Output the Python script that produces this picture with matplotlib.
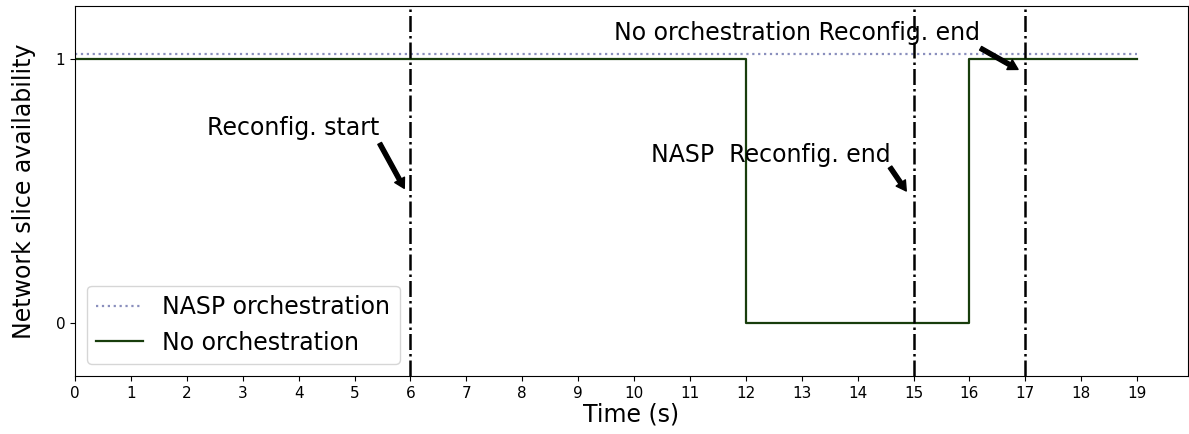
import matplotlib
matplotlib.use("Agg")
from matplotlib import pyplot as plt

# availability over time (s)
time_nasp = [0, 19]
avail_nasp = [1.02, 1.02]
time_noorch = [0, 12, 16, 19]
avail_noorch = [1, 0, 1, 1]
events = [6, 15, 17]
xticks = list(range(0, 20))

fig = plt.figure(figsize=(11.89, 4.34), dpi=100)
ax = fig.add_axes([75/1189, 58/434, 1113/1189, 370/434])

ax.plot(time_nasp, avail_nasp, ':', color='#8a8fbd', lw=1.6, label='NASP orchestration')
ax.step(time_noorch, avail_noorch, where='post', color='#183d0c', lw=1.6, label='No orchestration')

for t in events:
    ax.axvline(t, color='black', ls='-.', lw=1.8)

# arrows pointing at the event lines
arrow = dict(facecolor='black', edgecolor='black', width=3, headwidth=8, headlength=7, shrink=0)
ax.annotate('', xy=(5.89, 0.51), xytext=(5.45, 0.68), arrowprops=arrow)
ax.annotate('', xy=(14.87, 0.5), xytext=(14.58, 0.59), arrowprops=arrow)
ax.annotate('', xy=(16.87, 0.96), xytext=(16.2, 1.04), arrowprops=arrow)
ax.text(2.37, 0.71, 'Reconfig. start', fontsize=17)
ax.text(10.3, 0.61, 'NASP  Reconfig. end', fontsize=17)
ax.text(9.65, 1.07, 'No orchestration Reconfig. end', fontsize=17)

ax.set_xlim(0, 19.91)
ax.set_ylim(-0.2, 1.2)
ax.set_xticks(xticks)
ax.set_yticks([0, 1])
ax.tick_params(labelsize=11)
ax.set_xlabel('Time (s)', fontsize=17, labelpad=1)
ax.set_ylabel('Network slice availability', fontsize=17, labelpad=14)
ax.legend(loc='lower left', fontsize=17)

fig.savefig('out.png', dpi=100)
